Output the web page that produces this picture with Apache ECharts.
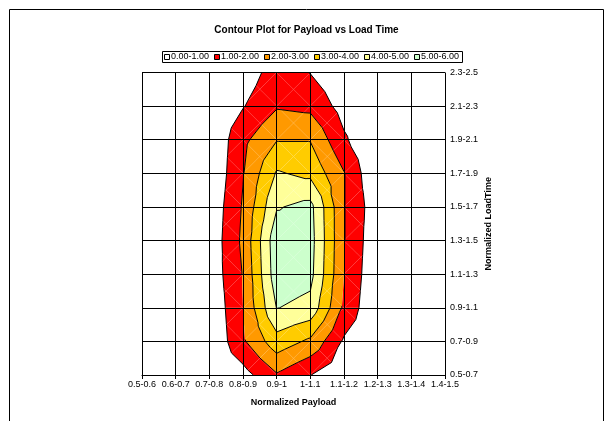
<!DOCTYPE html>
<html><head><meta charset="utf-8">
<script src="https://cdn.jsdelivr.net/npm/echarts@6/dist/echarts.min.js"></script>
<style>html,body{margin:0;padding:0;background:#fff}#c{width:613px;height:421px}</style>
</head><body><div id="c"></div>
<script>
const xLabels = ['0.5-0.6','0.6-0.7','0.7-0.8','0.8-0.9','0.9-1','1-1.1','1.1-1.2','1.2-1.3','1.3-1.4','1.4-1.5'];
const yLabels = ['0.5-0.7','0.7-0.9','0.9-1.1','1.1-1.3','1.3-1.5','1.5-1.7','1.7-1.9','1.9-2.1','2.1-2.3','2.3-2.5'];
const bandLabels = ['0.00-1.00','1.00-2.00','2.00-3.00','3.00-4.00','4.00-5.00','5.00-6.00'];
const bandColors = ['#FFFFFF','#FF0000','#FF9900','#FFCC00','#FFFF99','#CCFFCC'];

// values per LoadTime row (bottom 0.5-0.7 to top 2.3-2.5), one entry per Payload category
const z0 = [0, 0, 0,    0.6,  1.9,  1.02, 0.3,  0,    0, 0];
const z1 = [0, 0, 0,    1.85, 3.6,  2.8,  0.85, 0,    0, 0];
const z2 = [0, 0, 0.1,  2.0,  5.03, 4.7,  1.8,  0,    0, 0];
const z3 = [0, 0, 0.3,  2.05, 5.6,  5.3,  2.0,  0.1,  0, 0];
const z4 = [0, 0, 0.28, 2.2,  5.69, 5.4,  2.05, 0.22, 0, 0];
const z5 = [0, 0, 0.2,  2.1,  4.92, 5.3,  2.05, 0.35, 0, 0];
const z6 = [0, 0, 0,    1.95, 4.1,  3.76, 2.05, 0,    0, 0];
const z7 = [0, 0, 0,    1.76, 2.95, 2.95, 1.15, 0,    0, 0];
const z8 = [0, 0, 0,    0.94, 1.9,  1.75, 0.6,  0,    0, 0];
const z9 = [0, 0, 0,    0.375,1.5,  0.97, 0.2,  0,    0, 0];
const zRows = [z0, z1, z2, z3, z4, z5, z6, z7, z8, z9];

const FONT = 'Liberation Sans, Arial, sans-serif';

const cells = [];
for (let j = 0; j < yLabels.length - 1; j++)
  for (let i = 0; i < xLabels.length - 1; i++) cells.push([i, j]);

function lerpP(a, b, t) {
  return { x: a.x + (b.x - a.x) * t, y: a.y + (b.y - a.y) * t, v: a.v + (b.v - a.v) * t };
}
function clipPoly(poly, level, keepAbove) {
  const out = [];
  const inside = p => keepAbove ? p.v >= level : p.v <= level;
  for (let k = 0; k < poly.length; k++) {
    const a = poly[k], b = poly[(k + 1) % poly.length];
    const ia = inside(a), ib = inside(b);
    if (ia && ib) out.push(b);
    else if (ia && !ib) out.push(lerpP(a, b, (level - a.v) / (b.v - a.v)));
    else if (!ia && ib) { out.push(lerpP(a, b, (level - a.v) / (b.v - a.v))); out.push(b); }
  }
  return out;
}
function triangles(api) {
  const i = api.value(0), j = api.value(1);
  const mk = (di, dj) => {
    const p = api.coord([i + di, j + dj]);
    return { x: p[0], y: p[1], v: zRows[j + dj][i + di] };
  };
  const a = mk(0, 0), b = mk(1, 0), c = mk(1, 1), d = mk(0, 1);
  const cp = api.coord([i + 0.5, j + 0.5]);
  const m = { x: cp[0], y: cp[1], v: (a.v + b.v + c.v + d.v) / 4 };
  return [[a, b, m], [b, c, m], [c, d, m], [d, a, m]];
}
function renderFill(params, api) {
  const children = [];
  triangles(api).forEach(tri => {
    for (let k = 1; k < bandColors.length; k++) {
      let p = clipPoly(tri, k, true);
      if (p.length < 3) continue;
      p = clipPoly(p, k + 1, false);
      if (p.length < 3) continue;
      children.push({ type: 'polygon', silent: true,
        shape: { points: p.map(q => [q.x, q.y]) },
        style: { fill: bandColors[k] } });
    }
  });
  return { type: 'group', children };
}
function renderLines(params, api) {
  const children = [];
  triangles(api).forEach(tri => {
    for (let L = 1; L < bandColors.length; L++) {
      const pts = [];
      for (let k = 0; k < 3; k++) {
        const a = tri[k], b = tri[(k + 1) % 3];
        if ((a.v - L) * (b.v - L) < 0) pts.push(lerpP(a, b, (L - a.v) / (b.v - a.v)));
      }
      if (pts.length === 2) children.push({ type: 'line', silent: true,
        shape: { x1: pts[0].x, y1: pts[0].y, x2: pts[1].x, y2: pts[1].y },
        style: { stroke: '#000', lineWidth: 1 } });
    }
  });
  return { type: 'group', children };
}

const legendItems = [];
bandLabels.forEach((t, k) => {
  legendItems.push({ type: 'group', x: 164.5 + k * 50, y: 57, children: [
    { type: 'rect', shape: { x: 0, y: -2.5, width: 5, height: 5 },
      style: { fill: bandColors[k], stroke: '#000', lineWidth: 1 } },
    { type: 'text', x: 6.5, y: 0,
      style: { text: t, font: '9px ' + FONT, fill: '#000', verticalAlign: 'middle', align: 'left' } }
  ]});
});

const chart = echarts.init(document.getElementById('c'), null, { renderer: 'canvas' });
chart.setOption({
  animation: false,
  backgroundColor: '#fff',
  title: { text: 'Contour Plot for Payload vs Load Time', left: 'center', top: 25, padding: 0,
    textStyle: { fontSize: 10, fontWeight: 'bold', color: '#000', fontFamily: FONT } },
  graphic: [
    { type: 'rect', z: 0, shape: { x: 9.5, y: 9.5, width: 594, height: 440 },
      style: { fill: 'none', stroke: '#000', lineWidth: 1 } },
    { type: 'rect', shape: { x: 162.5, y: 51.5, width: 300, height: 11 },
      style: { fill: '#fff', stroke: '#000', lineWidth: 1 } },
    ...legendItems
  ],
  grid: { left: 142, top: 72.5, width: 303, height: 302.5, show: false },
  xAxis: {
    type: 'value', min: 0, max: xLabels.length - 1, interval: 1, z: 10,
    name: 'Normalized Payload', nameLocation: 'middle', nameGap: 23,
    nameTextStyle: { fontSize: 9, fontWeight: 'bold', color: '#000', fontFamily: FONT },
    axisLine: { show: true, lineStyle: { color: '#000', width: 1 } },
    axisTick: { show: true, length: 4, lineStyle: { color: '#000' } },
    axisLabel: { fontSize: 9, color: '#000', fontFamily: FONT, margin: 5,
      formatter: v => xLabels[Math.round(v)] },
    splitLine: { show: true, lineStyle: { color: '#000', width: 1 } }
  },
  yAxis: {
    type: 'value', position: 'right', min: 0, max: yLabels.length - 1, interval: 1, z: 10,
    name: 'Normalized LoadTime', nameLocation: 'middle', nameGap: 39, nameRotate: 90,
    nameTextStyle: { fontSize: 9, fontWeight: 'bold', color: '#000', fontFamily: FONT },
    axisLine: { show: true, lineStyle: { color: '#000', width: 1 } },
    axisTick: { show: true, length: 4, lineStyle: { color: '#000' } },
    axisLabel: { fontSize: 9, color: '#000', fontFamily: FONT, margin: 5,
      formatter: v => yLabels[Math.round(v)] },
    splitLine: { show: true, lineStyle: { color: '#000', width: 1 } }
  },
  series: [
    { type: 'custom', z: 1, renderItem: renderFill, data: cells, silent: true },
    { type: 'custom', z: 2, renderItem: renderLines, data: cells, silent: true }
  ]
});
</script>
</body></html>
